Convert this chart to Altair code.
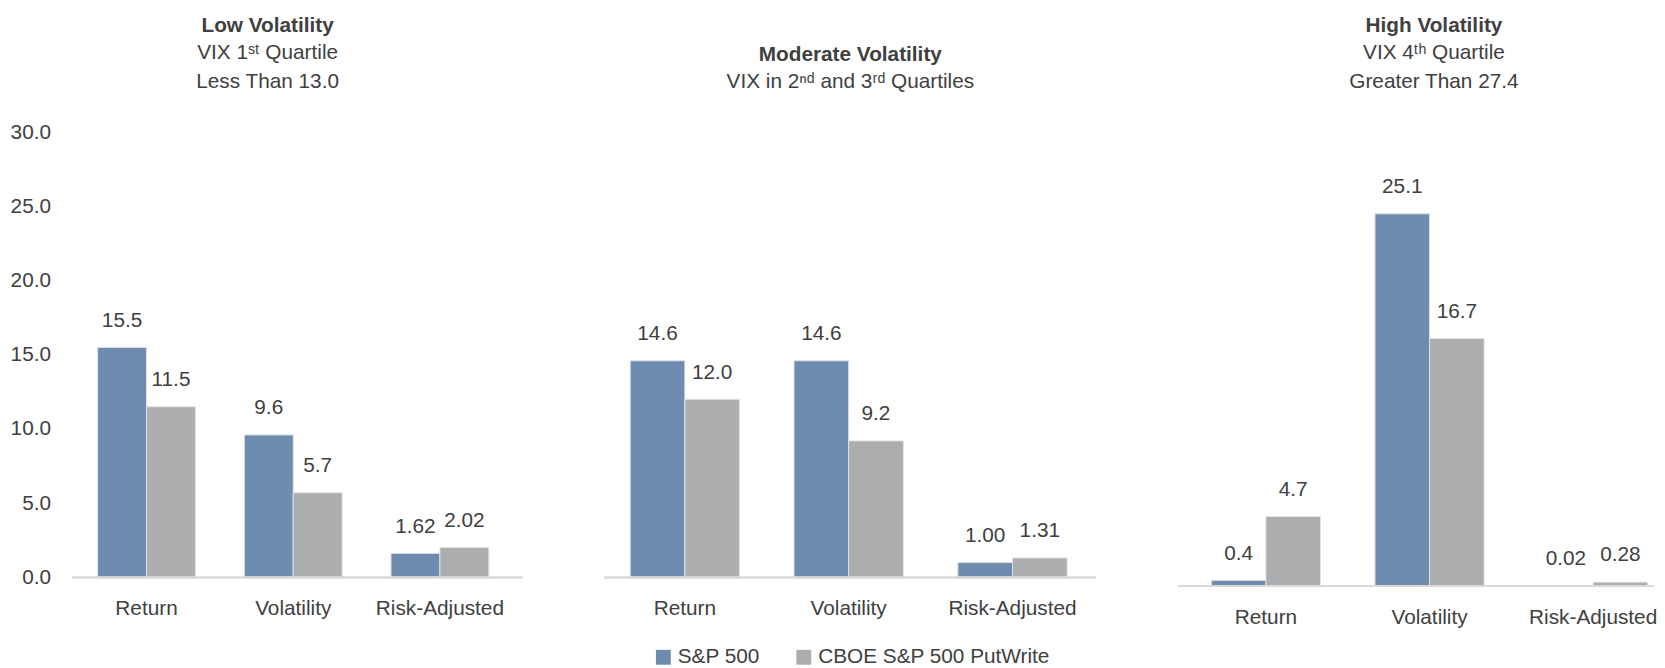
import altair as alt
import pandas as pd

categories = ["Return", "Volatility", "Risk-Adjusted"]
series = ["S&P 500", "CBOE S&P 500 PutWrite"]

low_sp500 = [15.5, 9.6, 1.62]
low_putwrite = [11.5, 5.7, 2.02]
mod_sp500 = [14.6, 14.6, 1.00]
mod_putwrite = [12.0, 9.2, 1.31]
high_sp500 = [0.4, 25.1, 0.02]
high_putwrite = [4.7, 16.7, 0.28]

y_ticks = [0, 5, 10, 15, 20, 25, 30]

BLUE = "#6E8BB0"
GRAY = "#ACADAF"
TXT = "#404040"
FONT = "Liberation Sans"
FS = 21


def make_df(sp, pw):
    rows = []
    for s, vals in zip(series, [sp, pw]):
        for c, v in zip(categories, vals):
            lab = f"{v:.2f}" if c == "Risk-Adjusted" else f"{v:.1f}"
            rows.append({"category": c, "series": s, "value": v, "label": lab})
    return pd.DataFrame(rows)


legend = alt.Legend(
    orient="none", legendX=587, legendY=520, direction="horizontal",
    title=None, symbolType="square", symbolSize=225, symbolStrokeWidth=0,
    labelFontSize=FS, labelColor=TXT, labelFont=FONT, labelLimit=400,
    columnPadding=34, labelOffset=4,
)


def panel(df, width, height, ymax, show_y, title, subtitle, pin, pout, align,
          title_offset, title_dx=0):
    xscale = alt.Scale(paddingInner=pin, paddingOuter=pout, align=align)
    x = alt.X("category:N", sort=categories, scale=xscale,
              axis=alt.Axis(title=None, labelAngle=0, domain=False, ticks=False,
                            tickSize=0, labelPadding=21, labelFontSize=FS,
                            labelColor=TXT, labelFont=FONT))
    if show_y:
        yaxis = alt.Axis(title=None, values=y_ticks, format=".1f", domain=False,
                         ticks=False, tickSize=0, grid=False, labelPadding=22,
                         labelFontSize=FS, labelColor=TXT, labelFont=FONT)
    else:
        yaxis = None
    y = alt.Y("value:Q", scale=alt.Scale(domain=[0, ymax], nice=False), axis=yaxis)
    xo = alt.XOffset("series:N", sort=series)
    base = alt.Chart(df)
    bars = base.mark_bar(stroke="#E2E2E2", strokeWidth=1).encode(
        x=x, xOffset=xo, y=y,
        color=alt.Color("series:N", scale=alt.Scale(domain=series, range=[BLUE, GRAY]),
                        legend=legend),
    )
    text = base.mark_text(baseline="alphabetic", dy=-21, fontSize=FS, color=TXT,
                          font=FONT).encode(x=x, xOffset=xo, y=y, text="label:N")
    rule = base.mark_rule(color="#D9D9D9", strokeWidth=1.5).encode(y=alt.datum(0))
    return alt.layer(bars, text, rule).resolve_scale(
        x="shared", xOffset="shared", y="shared"
    ).properties(
        width=width, height=height,
        title=alt.TitleParams(
            text=title, subtitle=subtitle, anchor="middle", frame="bounds",
            font=FONT, fontSize=FS, fontWeight="bold", color=TXT,
            subtitleFont=FONT, subtitleFontSize=FS, subtitleColor=TXT,
            subtitleLineHeight=29.5, subtitlePadding=6, offset=title_offset,
            dx=title_dx,
        ),
    )


p1 = panel(make_df(low_sp500, low_putwrite), 455, 450, 30, True,
           "Low Volatility", ["VIX 1ˢᵗ Quartile", "Less Than 13.0"],
           0.333, 0.2006, 0.43, 30, 1)
p2 = panel(make_df(mod_sp500, mod_putwrite), 497, 450, 30, False,
           "Moderate Volatility", ["VIX in 2ⁿᵈ and 3ʳᵈ Quartiles"],
           0.333, 0.167, 0.47, 41, 0)
p3 = panel(make_df(high_sp500, high_putwrite), 481, 459, 30.6, False,
           "High Volatility", ["VIX 4ᵗʰ Quartile", "Greater Than 27.4"],
           0.333, 0.1206, 0.84, 41, 17)

chart = alt.hconcat(p1, p2, p3, spacing=81).resolve_scale(
    x="independent", xOffset="independent", y="independent", color="shared"
).properties(
    padding={"left": 2, "top": 3, "right": 0, "bottom": 0},
    background="white",
).configure_view(stroke=None)

chart.save("out.html", embed_options={"renderer": "svg", "actions": False})
